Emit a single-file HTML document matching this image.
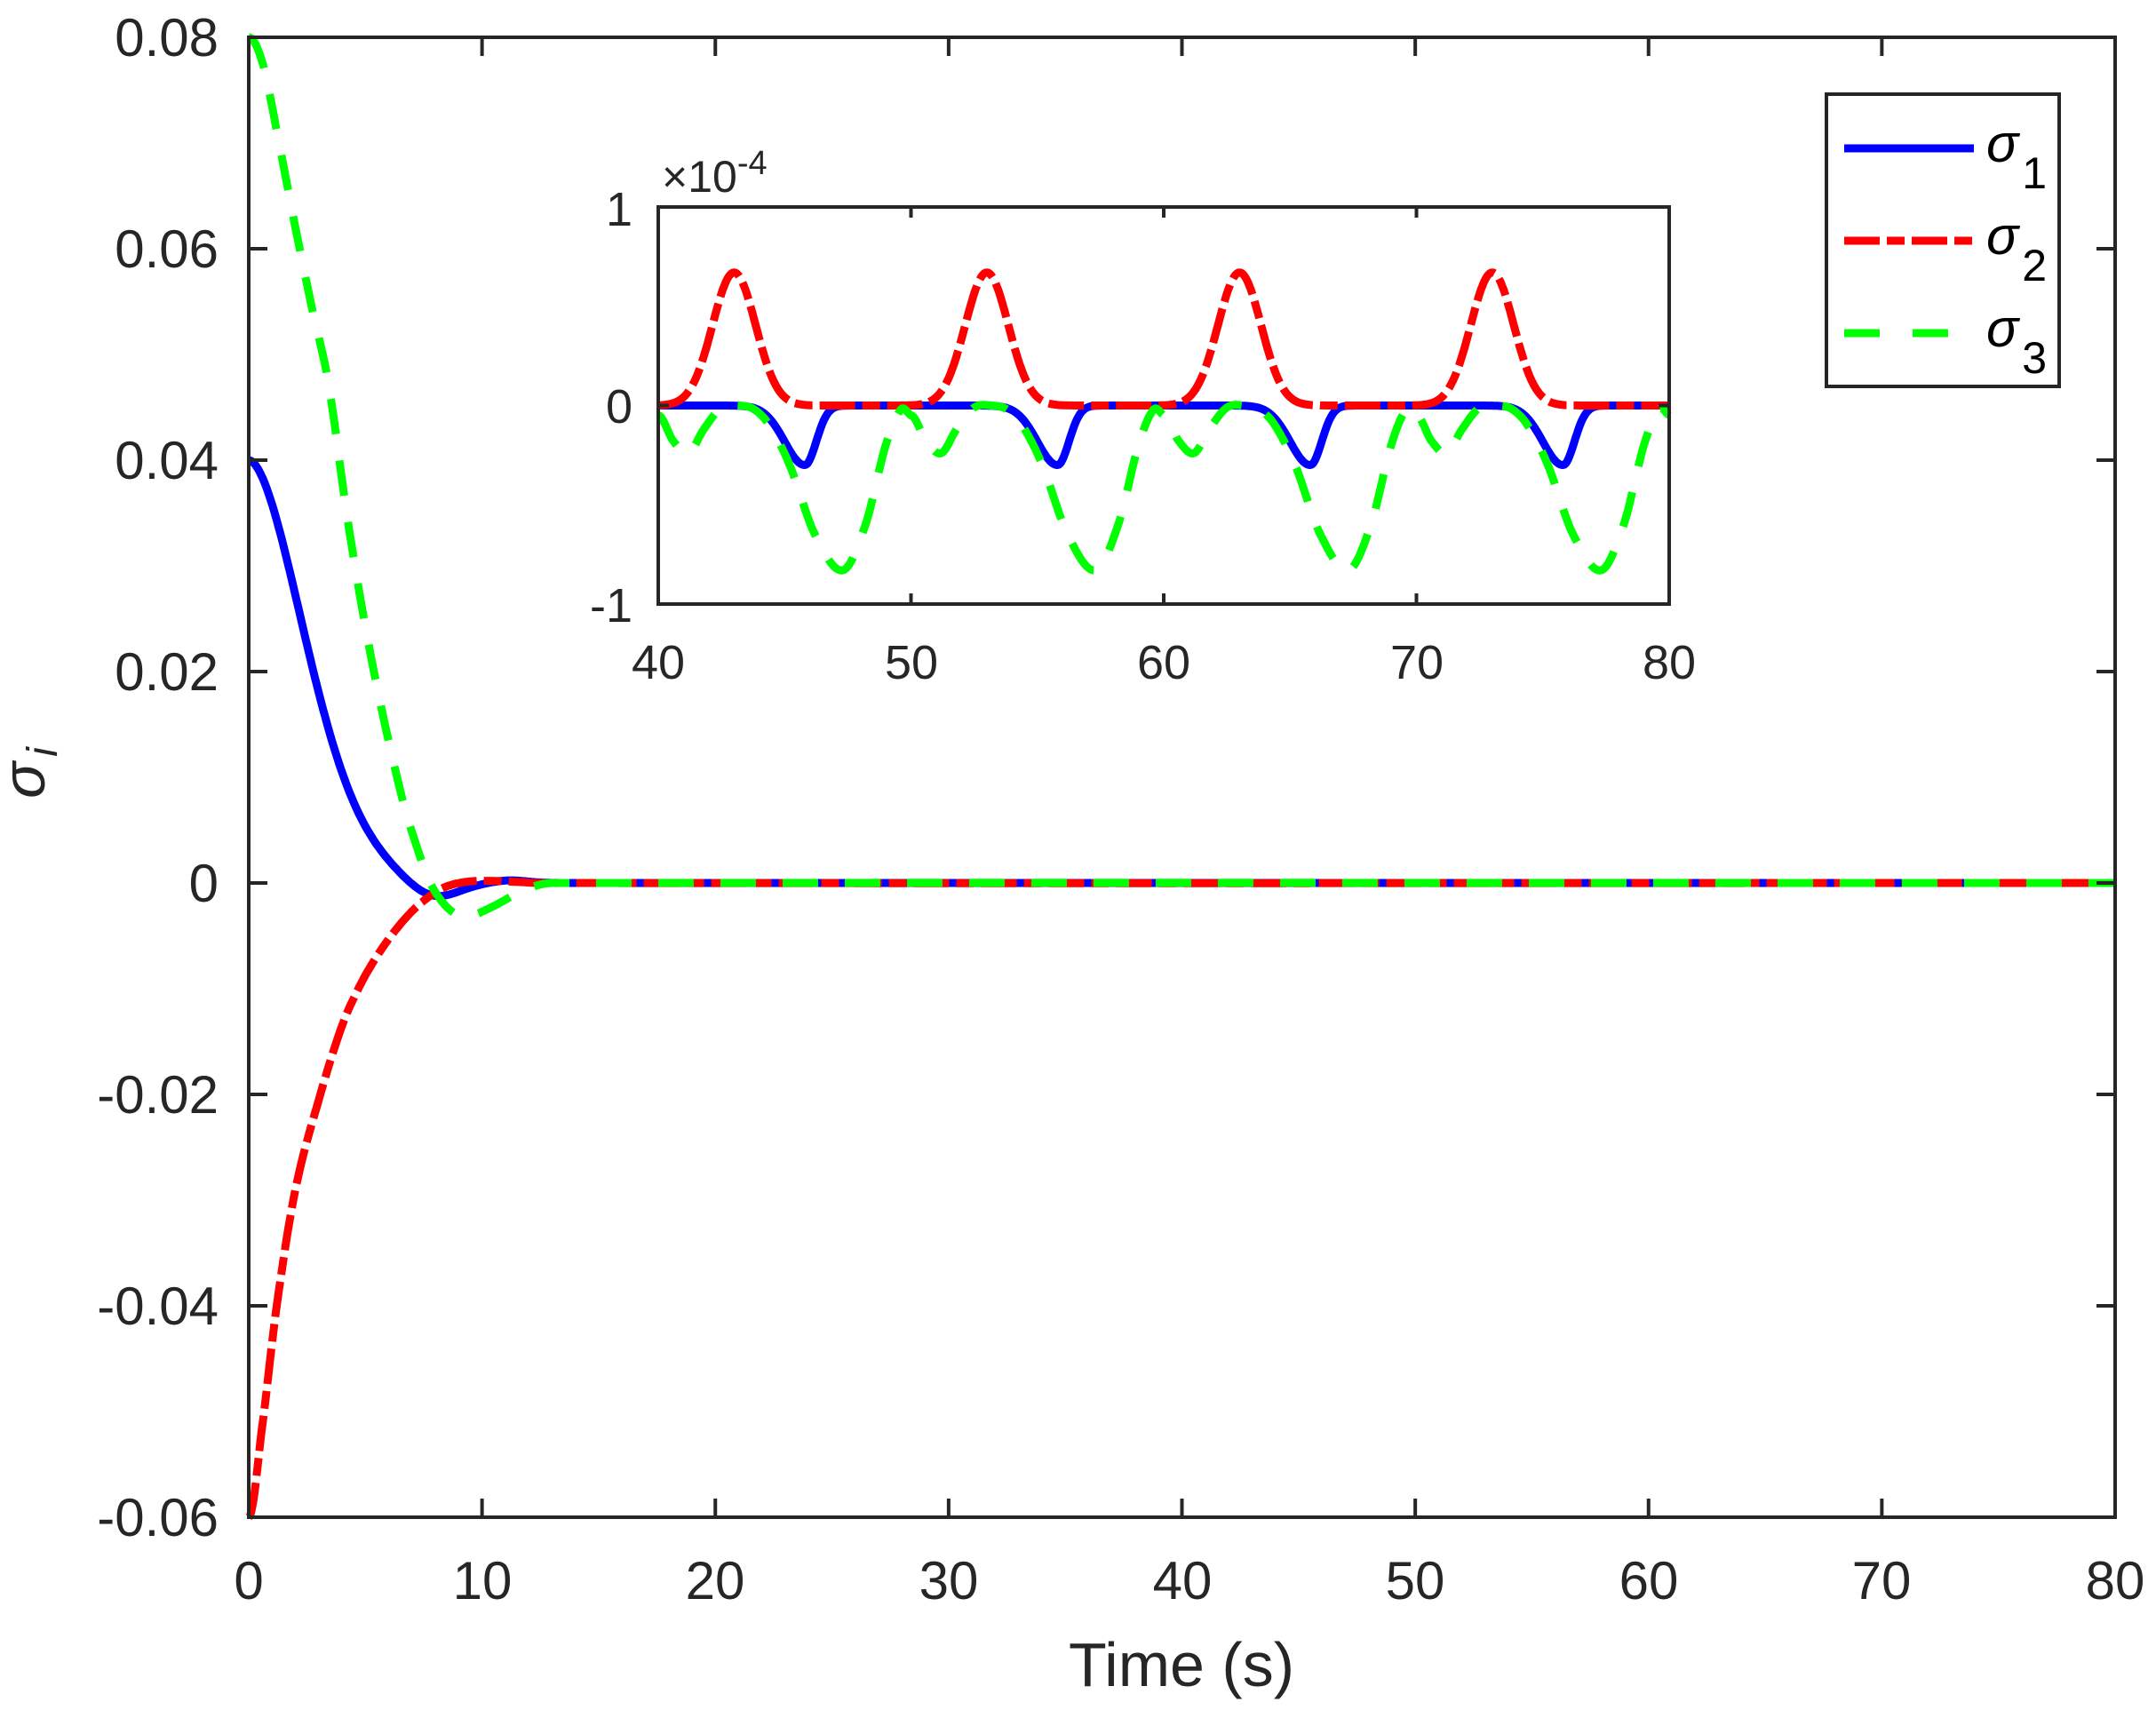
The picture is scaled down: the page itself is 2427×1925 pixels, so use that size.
<!DOCTYPE html>
<html><head><meta charset="utf-8"><style>
html,body{margin:0;padding:0;background:#fff;}
svg{display:block;font-family:"Liberation Sans",sans-serif;}
</style></head><body>
<svg id="s" width="2427" height="1925" viewBox="0 0 2427 1925" xmlns="http://www.w3.org/2000/svg">
<rect width="2427" height="1925" fill="#fff"/>
<g id="main"></g>
<rect x="280" y="42" width="2101" height="1666" fill="none" stroke="#262626" stroke-width="4"/>
<g id="ticks" stroke="#262626" stroke-width="4"></g>
<g font-size="60" fill="#262626" text-anchor="end">
<text x="246" y="63">0.08</text>
<text x="246" y="301">0.06</text>
<text x="246" y="539">0.04</text>
<text x="246" y="777">0.02</text>
<text x="246" y="1015">0</text>
<text x="246" y="1253">-0.02</text>
<text x="246" y="1491">-0.04</text>
<text x="246" y="1729">-0.06</text>
</g>
<g font-size="60" fill="#262626" text-anchor="middle">
<text x="280" y="1800">0</text>
<text x="543" y="1800">10</text>
<text x="805" y="1800">20</text>
<text x="1068" y="1800">30</text>
<text x="1331" y="1800">40</text>
<text x="1593" y="1800">50</text>
<text x="1856" y="1800">60</text>
<text x="2118" y="1800">70</text>
<text x="2381" y="1800">80</text>
</g>
<text x="1330" y="1898" font-size="70" fill="#262626" text-anchor="middle">Time (s)</text>
<text transform="translate(50,870) rotate(-90)" font-size="68" fill="#262626" text-anchor="middle" font-style="italic">σ<tspan font-size="48" dy="14" dx="6">i</tspan></text>

<rect x="741" y="233" width="1138" height="447" fill="#fff"/>
<g id="inset"></g>
<rect x="741" y="233" width="1138" height="447" fill="none" stroke="#262626" stroke-width="4"/>
<g id="iticks" stroke="#262626" stroke-width="4"></g>
<g font-size="54" fill="#262626" text-anchor="end">
<text x="712" y="254">1</text>
<text x="712" y="476">0</text>
<text x="712" y="700">-1</text>
</g>
<g font-size="54" fill="#262626" text-anchor="middle">
<text x="741" y="764">40</text>
<text x="1026" y="764">50</text>
<text x="1310" y="764">60</text>
<text x="1595" y="764">70</text>
<text x="1879" y="764">80</text>
</g>
<text x="745" y="216" font-size="50" fill="#262626">×10<tspan font-size="38" dy="-20">-4</tspan></text>

<rect x="2056" y="106" width="262" height="329" fill="#fff" stroke="#262626" stroke-width="4"/>
<line x1="2076" y1="167" x2="2222" y2="167" stroke="#0000ff" stroke-width="9"/>
<line x1="2076" y1="271" x2="2222" y2="271" stroke="#ff0000" stroke-width="9" stroke-dasharray="40 8 20 8"/>
<line x1="2076" y1="375" x2="2222" y2="375" stroke="#00ff00" stroke-width="9" stroke-dasharray="40 37"/>
<g font-size="60" fill="#000" font-style="italic">
<text x="2236" y="182">σ<tspan font-style="normal" font-size="50" dy="30" dx="4">1</tspan></text>
<text x="2236" y="286">σ<tspan font-style="normal" font-size="50" dy="30" dx="4">2</tspan></text>
<text x="2236" y="390">σ<tspan font-style="normal" font-size="50" dy="30" dx="4">3</tspan></text>
</g>
</svg>
<script>
var NS="http://www.w3.org/2000/svg";
function el(p,tag,a){var e=document.createElementNS(NS,tag);for(var k in a)e.setAttribute(k,a[k]);p.appendChild(e);return e;}
function interp(pts,t){
  var n=pts.length;
  if(t<=pts[0][0])return pts[0][1];
  if(t>=pts[n-1][0])return pts[n-1][1];
  var i=0;while(pts[i+1][0]<t)i++;
  var p0=pts[Math.max(i-1,0)],p1=pts[i],p2=pts[i+1],p3=pts[Math.min(i+2,n-1)];
  var h=p2[0]-p1[0],s=(t-p1[0])/h;
  var m1=(i==0)?0:(p2[1]-p0[1])/(p2[0]-p0[0])*h, m2=(p3[1]-p1[1])/(p3[0]-p1[0]||1)*h;
  var s2=s*s,s3=s2*s;
  return (2*s3-3*s2+1)*p1[1]+(s3-2*s2+s)*m1+(-2*s3+3*s2)*p2[1]+(s3-s2)*m2;
}
function path(f,t0,t1,n,X,Y){var d="";for(var i=0;i<=n;i++){var t=t0+(t1-t0)*i/n;d+=(i?"L":"M")+X(t).toFixed(1)+","+Y(f(t)).toFixed(1);}return d;}
var mx=function(t){return 280+t*2101/80;}, my=function(v){return 994-v*11900;};
function blueM(t){
  var b=0.04*Math.exp(-Math.pow(t/3.4,1.8));
  b+=-0.0016*Math.exp(-Math.pow((t-7.9)/1.5,2));
  b+=0.00025*Math.exp(-Math.pow((t-11.2)/1.0,2));
  return b;
}
var G=[[0,0.08],[0.6,0.0775],[1.3,0.070],[2.0,0.062],[2.7,0.0545],[3.43,0.0471],[4.25,0.0342],[5.24,0.0214],[6.5,0.0087],[7.36,0.0024],[7.9,-0.0005],[8.6,-0.0025],[9.3,-0.0032],[10.3,-0.0024],[11.6,-0.0009],[12.6,-0.0001],[13.5,0],[80,0]];
var R=[[0,-0.06],[0.6,-0.051],[1.2,-0.04],[2,-0.029],[3.07,-0.02],[4.0,-0.0135],[4.7,-0.01],[5.33,-0.0075],[6.1,-0.005],[6.9,-0.0029],[7.6,-0.0015],[8.4,-0.0004],[9.3,0.0001],[10.3,0.0002],[11.5,0.0001],[12.5,0],[80,0]];
var gm=document.getElementById("main");
el(gm,"path",{d:path(blueM,0,80,1600,mx,my),fill:"none",stroke:"#0000ff","stroke-width":9,"stroke-linejoin":"round"});
el(gm,"path",{d:path(function(t){return interp(R,t)},0,80,1600,mx,my),fill:"none",stroke:"#ff0000","stroke-width":9,"stroke-dasharray":"40 8 20 8"});
el(gm,"path",{d:path(function(t){return interp(G,t)},0,80,1600,mx,my),fill:"none",stroke:"#00ff00","stroke-width":9,"stroke-dasharray":"40 30"});
var tk=document.getElementById("ticks");
for(var i=1;i<8;i++){var x=mx(i*10);el(tk,"line",{x1:x,y1:1708,x2:x,y2:1687});el(tk,"line",{x1:x,y1:42,x2:x,y2:63});}
for(var j=1;j<7;j++){var y=42+j*238;el(tk,"line",{x1:280,y1:y,x2:301,y2:y});el(tk,"line",{x1:2381,y1:y,x2:2360,y2:y});}
var ix=function(t){return 741+(t-40)*1138/40;}, iy=function(v){return 456.5-v*223.5;};
function red(t){var v=0;for(var k=0;k<5;k++){var c=33+10*k;v+=0.67*Math.exp(-Math.pow(t-c,2)/(2*0.85*0.85));}return v;}
function blue(t){var v=0;for(var k=0;k<5;k++){var c=35.8+10*k;var s=(t<c)?0.8:0.45;v+=-0.3*Math.exp(-Math.pow(t-c,2)/(2*s*s));}return v;}
var GP=[[0,-0.05],[0.6,-0.18],[1.2,-0.24],[1.8,-0.12],[2.5,-0.01],[3.2,0],[3.8,-0.02],[4.4,-0.1],[5.2,-0.3],[6.2,-0.65],[7.3,-0.83],[8.2,-0.6],[9.0,-0.2],[9.6,-0.02],[10,-0.05]];
function green(t){var tau=((t-40)%10+10)%10;return interp(GP,tau);}
var gi=document.getElementById("inset");
el(gi,"path",{d:path(blue,40,80,800,ix,iy),fill:"none",stroke:"#0000ff","stroke-width":9});
el(gi,"path",{d:path(red,40,80,800,ix,iy),fill:"none",stroke:"#ff0000","stroke-width":9,"stroke-dasharray":"40 8 20 8"});
el(gi,"path",{d:path(green,40,80,800,ix,iy),fill:"none",stroke:"#00ff00","stroke-width":9,"stroke-dasharray":"40 30"});
var it=document.getElementById("iticks");
for(var i=1;i<4;i++){var x=ix(40+i*10);el(it,"line",{x1:x,y1:680,x2:x,y2:668});el(it,"line",{x1:x,y1:233,x2:x,y2:245});}
el(it,"line",{x1:741,y1:456.5,x2:753,y2:456.5});el(it,"line",{x1:1879,y1:456.5,x2:1867,y2:456.5});
</script>
</body></html>
